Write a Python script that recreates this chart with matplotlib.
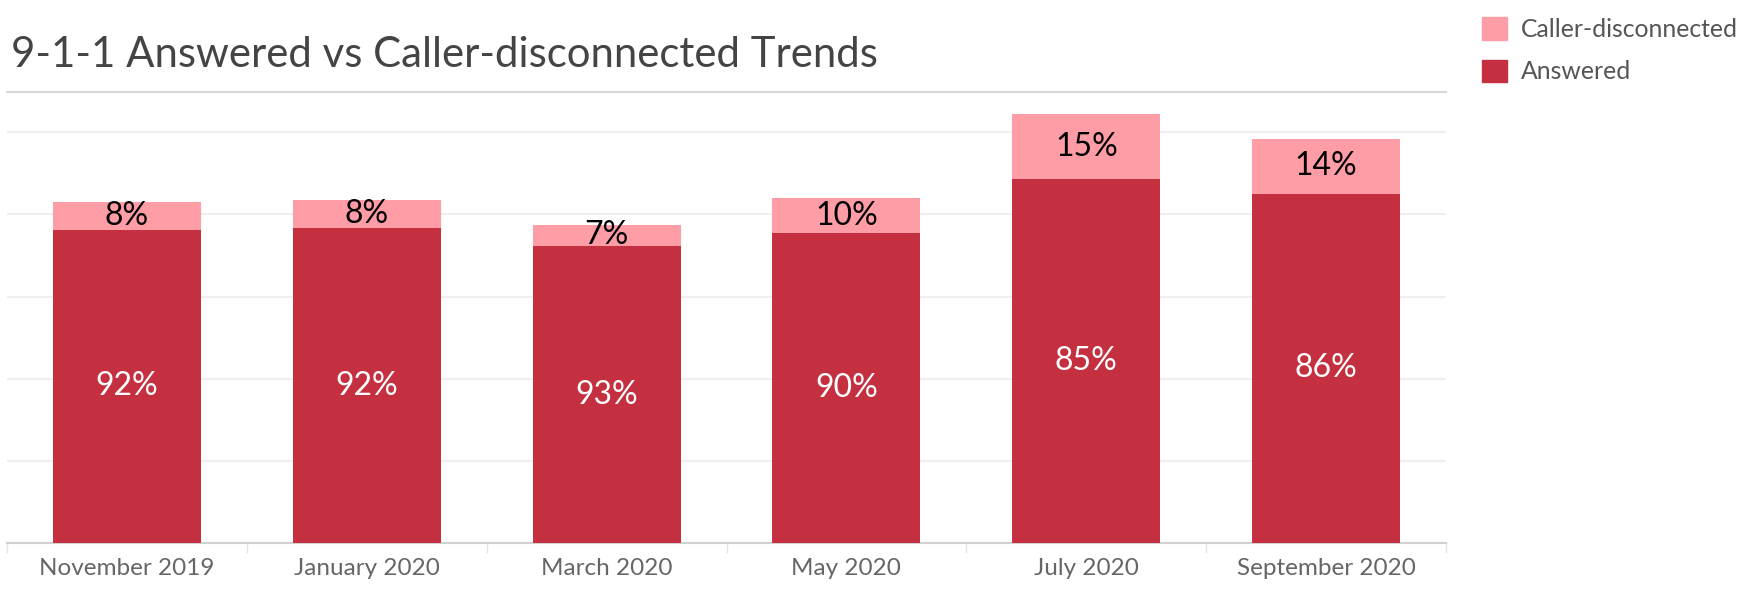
import numpy as np
import matplotlib
matplotlib.use("Agg")
import matplotlib.pyplot as plt
from matplotlib.patches import Patch

# call counts per month (y axis is hidden)
months = ["November 2019", "January 2020", "March 2020",
          "May 2020", "July 2020", "September 2020"]
answered = [3815, 3830, 3615, 3770, 4430, 4250]
disconnected = [330, 340, 260, 430, 790, 670]

RED = "#C4303F"
PINK = "#FF9DA7"

plt.rcParams["font.family"] = ["Lato", "DejaVu Sans"]

fig = plt.figure(figsize=(17.52, 5.94), dpi=100)
ax = fig.add_axes([7 / 1752, 51 / 594, 1439 / 1752, 451 / 594])

x = np.arange(len(months))
ans = np.array(answered)
dis = np.array(disconnected)
tot = ans + dis
w = 0.617

ax.bar(x, ans, width=w, color=RED, zorder=3)
ax.bar(x, dis, width=w, bottom=ans, color=PINK, zorder=3)

for i in range(len(x)):
    ax.text(x[i], ans[i] / 2, f"{round(ans[i] / tot[i] * 100)}%", ha="center",
            va="center", color="white", fontsize=23, zorder=4)
    ax.text(x[i], ans[i] + dis[i] / 2, f"{round(dis[i] / tot[i] * 100)}%",
            ha="center", va="center", color="black", fontsize=23, zorder=4)

ax.set_xlim(-0.5, len(months) - 0.5)
ax.set_ylim(0, 5490)
ax.set_yticks([1000, 2000, 3000, 4000, 5000])
ax.yaxis.grid(True, color="#efefef", linewidth=1.5, zorder=0)
ax.tick_params(axis="y", left=False, labelleft=False)

ax.set_xticks(x)
ax.set_xticklabels(months, fontsize=17.5, color="#666666")
ax.tick_params(axis="x", length=0, pad=11)
for b in np.arange(-0.5, len(months), 1.0):
    ax.plot([b, b], [0, -0.02], transform=ax.get_xaxis_transform(),
            color="#e4e4e4", lw=1, clip_on=False)

for s in ["left", "right"]:
    ax.spines[s].set_visible(False)
ax.spines["bottom"].set_color("#d0d0d0")
ax.spines["bottom"].set_linewidth(1.5)
ax.spines["top"].set_color("#d8d8d8")
ax.spines["top"].set_linewidth(1.5)

fig.text(11 / 1752, 1 - 67 / 594, "9-1-1 Answered vs Caller-disconnected Trends",
         fontsize=30.2, color="#444444", va="baseline", ha="left")

handles = [Patch(color=PINK, label="Caller-disconnected"),
           Patch(color=RED, label="Answered")]
fig.legend(handles=handles, loc="upper left", bbox_to_anchor=(1460 / 1752, 1.008),
           frameon=False, fontsize=17.8, handlelength=1.0, handleheight=1.0,
           handletextpad=0.55, labelspacing=0.75, labelcolor="#555555")

fig.savefig("out.png", dpi=100)
